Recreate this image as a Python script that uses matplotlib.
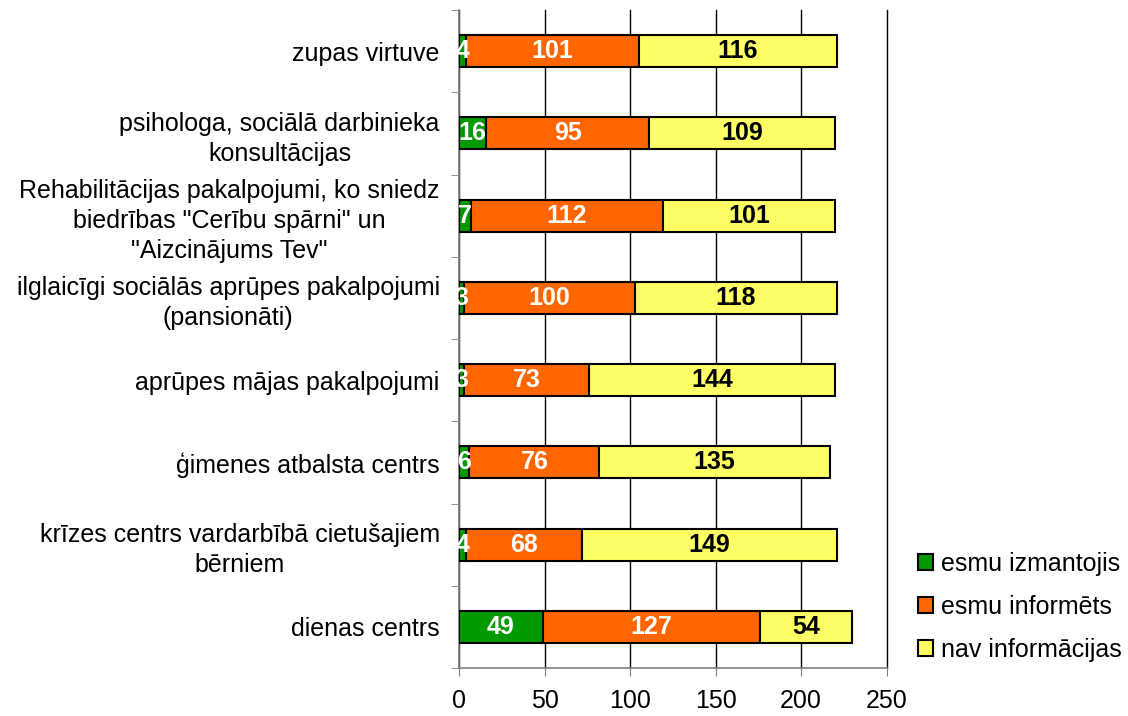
import matplotlib.pyplot as plt
import numpy as np

plt.rcParams['font.family'] = ['Liberation Sans', 'DejaVu Sans']

categories = ['dienas centrs',
              'krīzes centrs vardarbībā cietušajiem\nbērniem',
              'ģimenes atbalsta centrs',
              'aprūpes mājas pakalpojumi',
              'ilglaicīgi sociālās aprūpes pakalpojumi\n(pansionāti)',
              'Rehabilitācijas pakalpojumi, ko sniedz\nbiedrības "Cerību spārni" un\n"Aizcinājums Tev"',
              'psihologa, sociālā darbinieka\nkonsultācijas',
              'zupas virtuve']
izmantojis = [49, 4, 6, 3, 3, 7, 16, 4]
informets = [127, 68, 76, 73, 100, 112, 95, 101]
nav_info = [54, 149, 135, 144, 118, 101, 109, 116]
series_names = ['esmu izmantojis', 'esmu informēts', 'nav informācijas']
colors = ['#009900', '#FF6600', '#FFFF66']
text_colors = ['white', 'white', 'black']

fig = plt.figure(figsize=(11.28, 7.16), dpi=100)
ax = fig.add_axes([0.407, 0.067, 0.379, 0.919])

y = np.arange(len(categories))
left = np.zeros(len(categories))
for vals, name, col, tc in zip([izmantojis, informets, nav_info], series_names, colors, text_colors):
    vals = np.array(vals)
    ax.barh(y, vals, left=left, height=0.39, color=col, edgecolor='black',
            linewidth=1.5, label=name, zorder=3)
    for yi, l, v in zip(y, left, vals):
        ax.text(l + v / 2, yi, str(v), ha='center', va='center', color=tc,
                fontsize=18, fontweight='bold', zorder=4)
    left = left + vals

ax.set_xlim(0, 250)
ax.set_ylim(-0.5, len(categories) - 0.5)
ax.set_xticks(np.arange(0, 251, 50))
ax.set_yticks(y)
ax.set_yticklabels(categories, multialignment='center', linespacing=1.3)
ax.set_yticks(np.arange(-0.5, len(categories), 1), minor=True)
ax.tick_params(axis='y', which='major', length=0, pad=14, labelsize=18)
ax.tick_params(axis='y', which='minor', length=6, color='#808080')
ax.tick_params(axis='x', length=6, color='#808080', labelsize=18, pad=9)
ax.xaxis.grid(True, color='black', linewidth=1, zorder=0)
for gl in ax.get_xgridlines():
    gl.set_clip_on(False)
ax.set_axisbelow(True)
for s in ['top', 'right']:
    ax.spines[s].set_visible(False)
for s in ['left', 'bottom']:
    ax.spines[s].set_color('#808080')
    ax.spines[s].set_linewidth(1.2)

fig.legend(loc='lower left', bbox_to_anchor=(0.805, 0.062), frameon=False,
           fontsize=18, handlelength=0.6, handleheight=0.6, handletextpad=0.3,
           labelspacing=0.75, borderaxespad=0)

fig.savefig('out.png', dpi=100)
